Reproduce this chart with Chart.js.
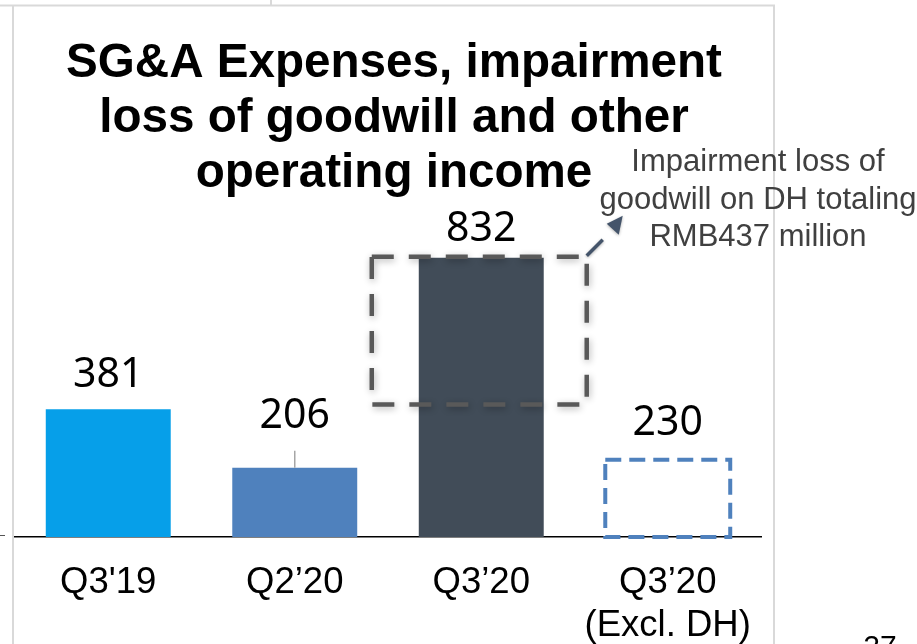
<!DOCTYPE html>
<html>
<head>
<meta charset="utf-8">
<title>SG&amp;A Expenses</title>
<script src="https://cdn.jsdelivr.net/npm/chart.js@4/dist/chart.umd.min.js"></script>
<style>
  html, body { margin: 0; padding: 0; background: #fff; overflow: hidden; }
  canvas { display: block; }
</style>
</head>
<body>
<canvas id="grafico" width="917" height="672"></canvas>
<script>
// values in RMB million
const categories = [["Q3'19"], ["Q2\u201920"], ["Q3\u201920"], ["Q3\u201920", "(Excl. DH)"]];
const expenses = [381, 206, 832, 230];
const impairment = 437;
const barColors = ['#069fe9', '#4f81bd', '#414c58', 'rgba(0,0,0,0)'];
const titleLines = ['SG&A Expenses, impairment', 'loss of goodwill and other', 'operating income'];
const noteLines = ['Impairment loss of', 'goodwill on DH totaling', 'RMB' + impairment + ' million'];

document.addEventListener('DOMContentLoaded', function () {
    const canvas = document.getElementById('grafico');

    const overlays = {
        id: 'overlays',
        beforeDraw(chart) {
            // slide frame
            const ctx = chart.ctx;
            ctx.save();
            ctx.strokeStyle = '#d9d9d9';
            ctx.lineWidth = 2;
            ctx.beginPath();
            ctx.moveTo(0, 5.5); ctx.lineTo(775, 5.5);
            ctx.moveTo(271, 0); ctx.lineTo(271, 6);
            ctx.moveTo(13, 5); ctx.lineTo(13, 672);
            ctx.moveTo(774, 5); ctx.lineTo(774, 672);
            ctx.stroke();
            ctx.strokeStyle = '#555';
            ctx.lineWidth = 1;
            ctx.beginPath();
            ctx.moveTo(0, 535.5); ctx.lineTo(5, 535.5);
            ctx.stroke();
            ctx.restore();
        },
        afterDatasetsDraw(chart) {
            const ctx = chart.ctx;
            const meta = chart.getDatasetMeta(0);
            const y = chart.scales.y;

            // outline bar for Q3'20 excluding DH
            const ex = meta.data[3].getProps(['x', 'y', 'base', 'width'], true);
            ctx.save();
            ctx.strokeStyle = '#4f81bd';
            ctx.lineWidth = 4;
            ctx.setLineDash([16, 8]);
            ctx.strokeRect(ex.x - ex.width / 2, ex.y, ex.width, ex.base - ex.y);
            ctx.restore();

            // dashed box marking the impairment part of Q3'20
            const q3 = meta.data[2].getProps(['x', 'y', 'base', 'width'], true);
            const top = y.getPixelForValue(expenses[2]);
            const bottom = y.getPixelForValue(expenses[2] - impairment);
            const left = q3.x - q3.width / 2 - 47;
            const right = q3.x + q3.width / 2 + 43;
            ctx.save();
            ctx.shadowColor = 'rgba(0,0,0,0.3)';
            ctx.shadowBlur = 7;
            ctx.shadowOffsetX = 1;
            ctx.shadowOffsetY = 2;
            ctx.strokeStyle = '#595959';
            ctx.lineWidth = 4.5;
            ctx.setLineDash([22, 15]);
            ctx.strokeRect(left, top - 1, right - left, bottom - top + 1);
            ctx.restore();

            // arrow towards the note
            const cx = right, cy = top - 2;
            ctx.save();
            ctx.shadowColor = 'rgba(0,0,0,0.3)';
            ctx.shadowBlur = 3;
            ctx.shadowOffsetY = 1;
            ctx.strokeStyle = '#44546a';
            ctx.fillStyle = '#44546a';
            ctx.lineWidth = 3.5;
            ctx.beginPath();
            ctx.moveTo(cx, cy);
            ctx.lineTo(cx + 16, cy - 16);
            ctx.stroke();
            ctx.beginPath();
            ctx.moveTo(cx + 36, cy - 40);
            ctx.lineTo(cx + 20, cy - 32);
            ctx.lineTo(cx + 32, cy - 21);
            ctx.closePath();
            ctx.fill();
            ctx.restore();
        },
        afterDraw(chart) {
            const ctx = chart.ctx;
            const meta = chart.getDatasetMeta(0);
            ctx.save();

            // title
            ctx.fillStyle = '#000';
            ctx.font = 'bold 47.6px "Liberation Sans", Arial, sans-serif';
            ctx.textAlign = 'center';
            ctx.textBaseline = 'alphabetic';
            titleLines.forEach((t, i) => ctx.fillText(t, 394, 77 + i * 55));

            // value labels above the bars
            const gaps = [22, 40, 17, 25];
            ctx.font = '41px "Noto Sans", sans-serif';
            meta.data.forEach((bar, i) => {
                const p = bar.getProps(['x', 'y'], true);
                ctx.fillStyle = '#000';
                ctx.fillText(String(expenses[i]), p.x, p.y - gaps[i]);
                if (i === 1) {
                    ctx.strokeStyle = '#a6a6a6';
                    ctx.lineWidth = 1.5;
                    ctx.beginPath();
                    ctx.moveTo(p.x, p.y - 17);
                    ctx.lineTo(p.x, p.y);
                    ctx.stroke();
                }
            });

            // note
            ctx.fillStyle = '#404040';
            ctx.font = '31px "Liberation Sans", Arial, sans-serif';
            noteLines.forEach((t, i) => ctx.fillText(t, 758, 171 + i * 37.5));

            // page number
            ctx.fillStyle = '#000';
            ctx.font = '30px "Liberation Sans", Arial, sans-serif';
            ctx.fillText('27', 880, 656);
            ctx.restore();
        }
    };

    new Chart(canvas.getContext('2d'), {
        type: 'bar',
        data: {
            labels: categories,
            datasets: [{
                data: expenses,
                backgroundColor: barColors,
                borderWidth: 0,
                barPercentage: 0.67,
                categoryPercentage: 1
            }]
        },
        options: {
            responsive: false,
            animation: false,
            layout: { padding: { left: 15, right: 156, top: 0, bottom: 1 } },
            plugins: {
                legend: { display: false },
                tooltip: { enabled: false }
            },
            scales: {
                x: {
                    grid: { display: false, drawTicks: false },
                    border: { display: true, color: '#000', width: 1.5 },
                    ticks: {
                        color: '#000',
                        padding: 24,
                        maxRotation: 0,
                        autoSkip: false,
                        font: { family: '"Liberation Sans", Arial, sans-serif', size: 36.5, lineHeight: 1.178 }
                    }
                },
                y: { display: false, min: 0, max: 1600 }
            }
        },
        plugins: [overlays]
    });
});
</script>
</body>
</html>
